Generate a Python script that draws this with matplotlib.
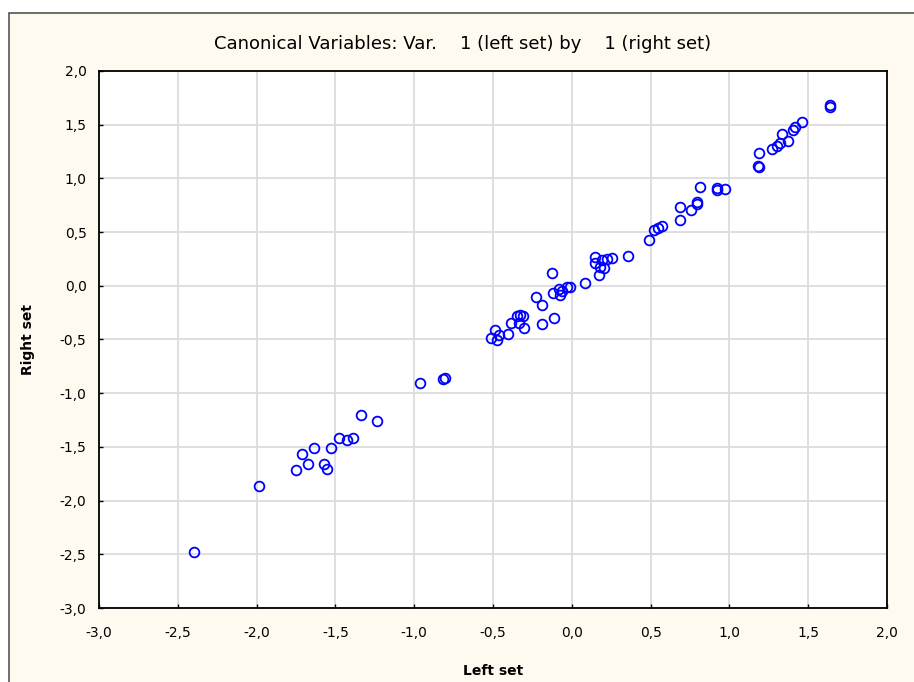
import numpy as np
import matplotlib
matplotlib.use('Agg')
import matplotlib.pyplot as plt
from matplotlib.patches import Rectangle
from matplotlib.ticker import FuncFormatter

# canonical scores
left_set = [-2.395, -1.983, -1.750, -1.710, -1.672, -1.634, -1.572, -1.553, -1.530,
            -1.477, -1.428, -1.388, -1.338, -1.234, -0.965, -0.817, -0.805,
            -0.515, -0.487, -0.473, -0.460, -0.403, -0.388, -0.346, -0.329, -0.312,
            -0.333, -0.303, -0.191, -0.113, -0.227, -0.191, -0.124, -0.121, -0.083,
            -0.075, -0.064, -0.032, -0.011, 0.082, 0.147, 0.147, 0.179, 0.204, 0.221,
            0.253, 0.174, 0.190, 0.355, 0.492, 0.522, 0.549, 0.570, 0.686, 0.686,
            0.754, 0.793, 0.793, 0.815, 0.919, 0.923, 0.972, 1.183, 1.188, 1.190,
            1.268, 1.304, 1.321, 1.332, 1.374, 1.402, 1.416, 1.463, 1.638, 1.641]
right_set = [-2.476, -1.867, -1.715, -1.566, -1.662, -1.510, -1.656, -1.703, -1.510,
             -1.414, -1.436, -1.414, -1.206, -1.262, -0.905, -0.868, -0.858,
             -0.483, -0.412, -0.505, -0.458, -0.452, -0.349, -0.281, -0.272, -0.281,
             -0.344, -0.396, -0.356, -0.297, -0.104, -0.182, 0.122, -0.070, -0.033,
             -0.086, -0.046, -0.014, -0.014, 0.026, 0.265, 0.215, 0.178, 0.163, 0.252,
             0.256, 0.101, 0.240, 0.275, 0.426, 0.520, 0.535, 0.560, 0.613, 0.731,
             0.706, 0.783, 0.759, 0.917, 0.913, 0.892, 0.899, 1.115, 1.103, 1.239,
             1.274, 1.302, 1.327, 1.411, 1.351, 1.451, 1.481, 1.522, 1.668, 1.679]

x_ticks = [-3.0, -2.5, -2.0, -1.5, -1.0, -0.5, 0.0, 0.5, 1.0, 1.5, 2.0]
y_ticks = [-3.0, -2.5, -2.0, -1.5, -1.0, -0.5, 0.0, 0.5, 1.0, 1.5, 2.0]

def comma_fmt(v, pos):
    return f"{v:.1f}".replace('.', ',')

fig = plt.figure(figsize=(9.14, 6.82), dpi=100)
fig.patch.set_facecolor('white')

# cream panel with thin frame, behind the axes
fig.patches.append(Rectangle((9 / 914, -0.05), 1.1, 1 - 13 / 682 + 0.05,
                             transform=fig.transFigure, facecolor='#fffaf0',
                             edgecolor='#555555', linewidth=1.2, zorder=-5))

ax = fig.add_axes([99 / 914, 1 - 608 / 682, 788 / 914, 537 / 682])
ax.set_zorder(1)
ax.set_facecolor('white')

ax.plot(left_set, right_set, 'o', ms=7, mfc='none', mec='#0000ff', mew=1.3,
        zorder=3, clip_on=False)

ax.set_xlim(-3, 2)
ax.set_ylim(-3, 2)
ax.set_xticks(x_ticks)
ax.set_yticks(y_ticks)
ax.xaxis.set_major_formatter(FuncFormatter(comma_fmt))
ax.yaxis.set_major_formatter(FuncFormatter(comma_fmt))
ax.grid(True, color='#dcdcdc', linewidth=1.3, zorder=0)
ax.set_axisbelow(True)
ax.tick_params(direction='in', length=3, width=1, labelsize=10, colors='black')
ax.tick_params(axis='x', pad=13)
ax.tick_params(axis='y', pad=9)
for sp in ax.spines.values():
    sp.set_linewidth(1.3)
    sp.set_color('black')

ax.set_xlabel("Left set", fontsize=10, fontweight='bold', labelpad=17)
ax.set_ylabel("Right set", fontsize=10, fontweight='bold', labelpad=18)
fig.text(463 / 914, 1 - 44 / 682, "Canonical Variables: Var.    1 (left set) by    1 (right set)",
         ha='center', va='center', fontsize=13)

plt.savefig('out.png', dpi=100)
plt.close()
